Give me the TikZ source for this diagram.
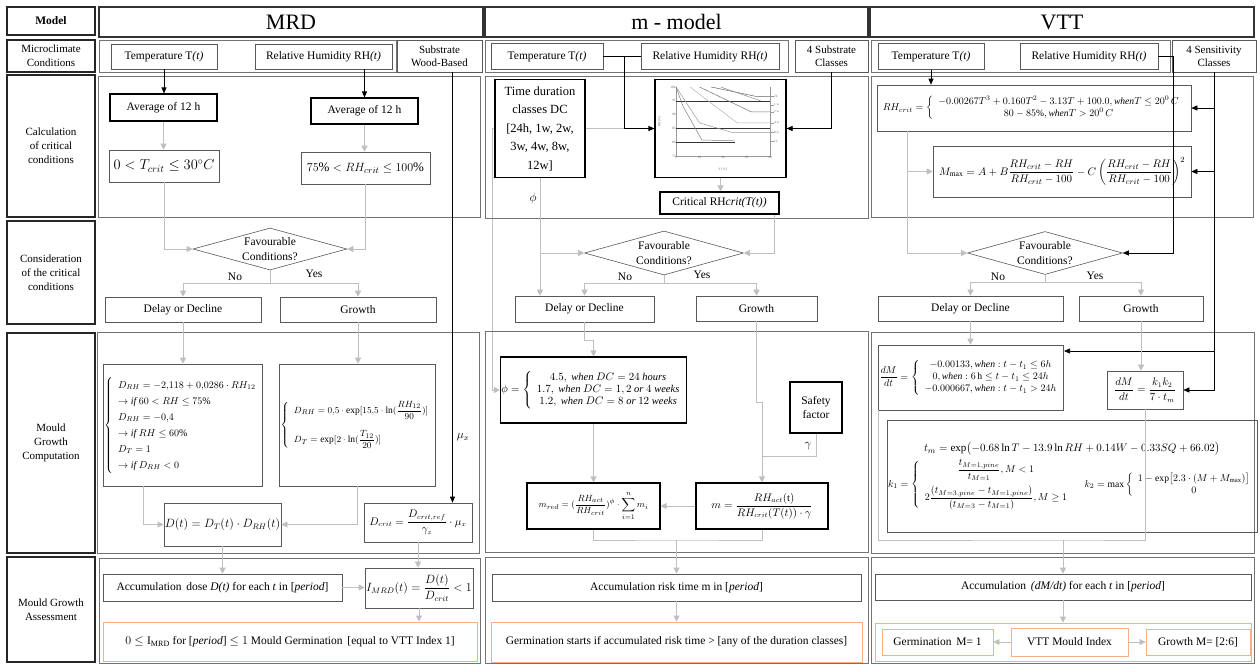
\documentclass[tikz,border=0pt]{standalone}
\usepackage{amsmath}
\usepackage{amssymb}
\usepackage{fontspec}
\setmainfont{Liberation Serif}
\usepackage{tikz}
\usetikzlibrary{positioning, shapes.geometric, arrows.meta, calc, backgrounds}
\definecolor{orangeline}{RGB}{244,176,132}
\tikzset{
    header/.style={draw=black!80, line width=1.2pt, minimum height=30, font=\fontsize{22}{24}\selectfont},
    row label/.style={draw=black!85, line width=1.3pt, minimum width=88, align=center, font=\fontsize{11}{14}\selectfont},
    cell frame/.style={draw=black!55, line width=0.7pt},
    box/.style={draw=black!65, line width=0.6pt, fill=white, align=center, inner sep=1pt, font=\fontsize{11.5}{13.5}\selectfont},
    thick box/.style={box, draw=black, line width=1.1pt},
    result box/.style={box, draw=orangeline, line width=0.9pt},
    decision/.style={diamond, draw=black!65, line width=0.6pt, fill=white, inner sep=0pt},
    label style/.style={font=\fontsize{11.5}{15}\selectfont, inner sep=1pt, align=center},
    gray line/.style={draw=black!25, line width=0.9pt},
    gray arrow/.style={gray line, -{Triangle[width=6pt,length=6pt]}},
    black line/.style={draw=black, line width=0.6pt},
    black arrow/.style={black line, -{Triangle[width=5pt,length=6pt]}},
    chart text/.style={font=\fontsize{3.3}{3.5}\selectfont, inner sep=0.4pt, text=black!60}
}

\begin{document}
\begin{tikzpicture}[x=1pt, y=-1pt]
    \useasboundingbox (0,0) rectangle (1260,664);

    % --- Frames of the table ---
    \draw[cell frame] (99,40) rectangle (396,72);
    \draw[cell frame] (485,40) rectangle (788,72);
    \draw[cell frame] (871,40) rectangle (1170,72);
    \draw[cell frame] (98,76) rectangle (480,217);
    \draw[cell frame] (485,76) rectangle (868,218);
    \draw[cell frame] (871,76) rectangle (1253,217);
    \draw[cell frame] (97,332) rectangle (479,553);
    \draw[cell frame] (485,331) rectangle (868,552);
    \draw[cell frame] (871,332) rectangle (1254,553);
    \draw[cell frame] (99,558) rectangle (480,663);
    \draw[cell frame] (485,557) rectangle (868,663);
    \draw[cell frame] (871,557) rectangle (1254,663);

    % --- Row labels ---
    \node (lblModel) [row label, minimum height=28, font=\bfseries\fontsize{11.5}{13}\selectfont] at (51,21) {Model};
    \node (lblMicro) [row label, minimum height=32] at (51,56) {Microclimate\\Conditions};
    \node (lblCalc) [row label, minimum height=142] at (51,146) {Calculation\\of critical\\conditions};
    \node (lblCons) [row label, minimum height=103] at (51,272.5) {Consideration\\of the critical\\conditions};
    \node (lblComp) [row label, minimum height=220] at (51,443) {Mould\\Growth\\Computation};
    \node (lblAssess) [row label, minimum height=105] at (51,609.5) {Mould Growth\\Assessment};

    % --- Headers ---
    \node (hMRD) [header, minimum width=384] at (291,22) {MRD};
    \node (hM) [header, minimum width=383] at (676.5,22) {m - model};
    \node (hVTT) [header, minimum width=384] at (1062,22) {VTT};

    % --- MRD ---
    \node (mrdT) [box, minimum width=106, minimum height=25] at (164,56.5) {Temperature T\textit{(t)}};
    \node (mrdRH) [box, minimum width=137, minimum height=25] at (323.5,56.5) {Relative Humidity RH\textit{(t)}};
    \node (mrdSub) [box, minimum width=85, minimum height=32, font=\fontsize{11}{13}\selectfont] at (439.5,56) {Substrate\\Wood-Based};
    \node (mrdAvgT) [thick box, minimum width=107, minimum height=27] at (163.5,107.5) {Average of 12 h};
    \node (mrdAvgRH) [thick box, minimum width=107, minimum height=26] at (364.5,111) {Average of 12 h};
    \node (mrdTcrit) [box, minimum width=110, minimum height=32, font=\fontsize{14}{16}\selectfont] at (164,166) {$0<T_{crit}\le 30^\circ C$};
    \node (mrdRHcrit) [box, minimum width=129, minimum height=32, font=\fontsize{13}{16}\selectfont] at (365.5,168) {$75\%<RH_{crit}\le 100\%$};
    \node (mrdDia) [decision, minimum width=154, minimum height=42] at (270,249) {};
    \node (mrdDiaText) [label style] at (mrdDia) {Favourable\\Conditions?};
    \node (mrdNo) [label style] at (235,277) {No};
    \node (mrdYes) [label style] at (314,274) {Yes};
    \node (mrdDelay) [box, minimum width=156, minimum height=25] at (183,309.5) {Delay or Decline};
    \node (mrdGrowth) [box, minimum width=156, minimum height=25] at (358,309.5) {Growth};
    \node (mrdDecl) [box, minimum width=156, minimum height=122, font=\fontsize{10}{11}\selectfont] at (183,425)
        {\renewcommand\arraystretch{1.45}$\left\{\begin{array}{l}D_{RH}=-2{,}118+0{,}0286\cdot RH_{12}\\ \rightarrow \mathit{if}\ 60<RH\le 75\%\\ D_{RH}=-0{,}4\\ \rightarrow \mathit{if}\ RH\le 60\%\\ D_T=1\\ \rightarrow \mathit{if}\ D_{RH}<0\end{array}\right.$};
    \node (mrdGrow) [box, minimum width=155, minimum height=122, font=\fontsize{9.5}{11}\selectfont] at (357.5,425)
        {$\left\{\begin{array}{l}D_{RH}=0{,}5\cdot\exp[15{,}5\cdot\ln(\dfrac{RH_{12}}{90})]\\[14pt] D_T=\exp[2\cdot\ln(\dfrac{T_{12}}{20})]\end{array}\right.$};
    \node (mrdD) [box, minimum width=109, minimum height=43] at (222.5,524.5) {$D(t)=D_T(t)\cdot D_{RH}(t)$};
    \node (mrdDcrit) [box, minimum width=108, minimum height=39, font=\fontsize{10.5}{12}\selectfont] at (418,522.5) {$D_{crit}=\dfrac{D_{crit,ref}}{\gamma_z}\cdot\mu_x$};
    \node (mrdMuLbl) [label style] at (463,437) {$\mu_x$};
    \node (mrdAcc) [box, minimum width=239, minimum height=27] at (222.5,587.5) {Accumulation\, dose \textit{D(t)} for each \textit{t} in [\textit{period}]};
    \node (mrdI) [box, minimum width=108, minimum height=40] at (419,588) {$I_{MRD}(t)=\dfrac{D(t)}{D_{crit}}<1$};
    \node (mrdOut) [result box, minimum width=374, minimum height=39] at (290,641.5) {$0\le{}$I\textsubscript{MRD} for [\textit{period}] $\le 1$ Mould Germination\, [equal to VTT Index 1]};

    % --- m-model ---
    \node (mT) [box, minimum width=112, minimum height=26] at (547,56.5) {Temperature T\textit{(t)}};
    \node (mRH) [box, minimum width=138, minimum height=26] at (710,56.5) {Relative Humidity RH\textit{(t)}};
    \node (mSub) [box, minimum width=73, minimum height=32, font=\fontsize{11}{13}\selectfont] at (831.5,56) {4 Substrate\\Classes};
    \node (mDC) [thick box, minimum width=90, minimum height=98, font=\fontsize{12.5}{18.5}\selectfont] at (540,128.5) {Time duration\\classes DC\\{[24h, 1w, 2w,}\\3w, 4w, 8w,\\12w]};
    \node (mChart) [thick box, minimum width=131, minimum height=98] at (720.5,128.5) {};
    \node (mCrit) [thick box, minimum width=119, minimum height=22] at (719.5,203) {Critical RH\textit{crit(T(t))}};
    \node (mPhiLbl) [label style] at (533,198) {$\phi$};
    \node (mDia) [decision, minimum width=159, minimum height=44] at (664,253) {};
    \node (mDiaText) [label style] at (mDia) {Favourable\\Conditions?};
    \node (mNo) [label style] at (625,277) {No};
    \node (mYes) [label style] at (702,275) {Yes};
    \node (mDelay) [box, minimum width=139, minimum height=26] at (584.5,309) {Delay or Decline};
    \node (mGrowth) [box, minimum width=121, minimum height=25] at (756.5,308.5) {Growth};
    \node (mPhi) [thick box, minimum width=179, minimum height=66, font=\fontsize{10.5}{12}\selectfont] at (593.5,390)
        {$\phi=\left\{\begin{array}{c}4.5,\ \mathit{when}\ DC=24\ \mathit{hours}\\ 1.7,\ \mathit{when}\ DC=1,2\ \mathit{or}\ 4\ \mathit{weeks}\\ 1.2,\ \mathit{when}\ DC=8\ \mathit{or}\ 12\ \mathit{weeks}\end{array}\right.$};
    \node (mSafe) [thick box, minimum width=52, minimum height=51] at (816,407.5) {Safety\\factor};
    \node (mGammaLbl) [label style] at (808,446) {$\gamma$};
    \node (mRed) [thick box, minimum width=133, minimum height=46, font=\fontsize{9.5}{11}\selectfont] at (593.5,506) {$m_{red}=(\dfrac{RH_{act}}{RH_{crit}})^{\phi}\cdot\displaystyle\sum_{i=1}^{n}m_i$};
    \node (mM) [thick box, minimum width=132, minimum height=46, font=\fontsize{10.5}{12}\selectfont] at (762,506) {$m=\dfrac{RH_{act}(\mathrm{t})}{RH_{crit}(T(t))\cdot\gamma}$};
    \node (mAcc) [box, minimum width=369, minimum height=27] at (676.5,587.5) {Accumulation risk time m in [\textit{period}]};
    \node (mOut) [result box, minimum width=371, minimum height=40] at (676.5,642) {Germination starts if accumulated risk time > [any of the duration classes]};

    % --- chart of the m-model ---
    \begin{scope}[shift={(676,156)}, x=2.35pt, y=2.76pt]
        \draw[black!40, line width=0.3pt] (0,25) -- (0,0) -- (40,0) -- (40,25);
        \foreach \v in {75,80,...,100}
            \node[chart text, left] at (0,\v-75) {\v};
        \foreach \t in {0,10,20,30,40}
            \node[chart text, below] at (\t,0) {\t};
        \node[chart text] at (20,-5) {T [°C]};
        \node[chart text, rotate=90] at (-7,12.5) {RH [\%]};
        \draw[black!80, line width=0.5pt] (0,20) -- (40,20);
        \draw[black!80, line width=0.5pt] (0,10) -- (40,10);
        \draw[black!80, line width=0.5pt] (0,5) -- (25,5);
        \draw[black!60, line width=0.5pt] (15,25) -- (34,21.6) -- (40,21.6);
        \draw[black!45, line width=0.5pt] (19,25) -- (36,20);
        \draw[black!55, line width=0.5pt] (10,25) -- (32,16) -- (40,16);
        \draw[black!30, line width=0.5pt] (6,25) -- (26,12) -- (40,12);
        \draw[black!40, line width=0.5pt] (0,25) -- (10,12) -- (24,8.5) -- (40,8.5);
        \draw[black!50, line width=0.5pt] (0,25) -- (3,18) -- (11,5.8) -- (25,5.5);
        \foreach \lv/\lt in {21.6/24, 18.6/1 w, 16/2 w, 12/4 w, 8.5/8 w, 5.3/12} {
            \draw[black!40, line width=0.3pt] (40,\lv) -- (41.5,\lv);
            \node[chart text, right] at (41.5,\lv) {\lt};
        }
    \end{scope}

    % --- VTT ---
    \node (vT) [box, minimum width=106, minimum height=26] at (931,56.5) {Temperature T\textit{(t)}};
    \node (vRH) [box, minimum width=138, minimum height=26] at (1089,56.5) {Relative Humidity RH\textit{(t)}};
    \node (vSens) [box, minimum width=84, minimum height=32, font=\fontsize{11}{13}\selectfont] at (1214,56) {4 Sensitivity\\Classes};
    \node (vRHcrit) [box, minimum width=314, minimum height=46, font=\fontsize{9.6}{12}\selectfont] at (1034,108)
        {$RH_{crit}=\left\{\begin{array}{c}-0.00267T^3+0.160T^2-3.13T+100.0,\mathit{when}T\le 20^{0}\,C\\ 80-85\%,\mathit{when}T>20^{0}\,C\end{array}\right.$};
    \node (vMmax) [box, minimum width=258, minimum height=51, font=\fontsize{11}{13}\selectfont] at (1062,171.5)
        {$M_{\max}=A+B\dfrac{RH_{crit}-RH}{RH_{crit}-100}-C\left(\dfrac{RH_{crit}-RH}{RH_{crit}-100}\right)^2$};
    \node (vDia) [decision, minimum width=155, minimum height=43] at (1045,253) {};
    \node (vDiaText) [label style] at (vDia) {Favourable\\Conditions?};
    \node (vNo) [label style] at (998,277) {No};
    \node (vYes) [label style] at (1095,276) {Yes};
    \node (vDelay) [box, minimum width=185, minimum height=25] at (970.5,308.5) {Delay or Decline};
    \node (vGrowth) [box, minimum width=124, minimum height=25] at (1141,308.5) {Growth};
    \node (vDecl) [box, minimum width=184, minimum height=65, font=\fontsize{9.7}{12}\selectfont] at (971,377.5)
        {$\dfrac{dM}{dt}=\left\{\begin{array}{c}-0.00133,\mathit{when}:t-t_1\le 6h\\ 0,\mathit{when}:6\,\mathrm{h}\le t-t_1\le 24h\\ -0.000667,\mathit{when}:t-t_1>24h\end{array}\right.$};
    \node (vGrow) [box, minimum width=76, minimum height=38, font=\fontsize{10.5}{12}\selectfont] at (1145,390) {$\dfrac{dM}{dt}=\dfrac{k_1k_2}{7\cdot t_m}$};
    \node (vTm) [box, fill=none, minimum width=354, minimum height=112, font=\fontsize{9.6}{12}\selectfont] at (1072,476)
        {{\fontsize{11}{13}\selectfont$t_m=\exp\bigl(-0.68\ln T-13.9\ln RH+0.14W-0.33SQ+66.02\bigr)$}\\[3pt]
         $k_1=\left\{\begin{array}{c}\dfrac{t_{M=1,pine}}{t_{M=1}},M<1\\[10pt] 2\dfrac{(t_{M=3,pine}-t_{M=1,pine})}{(t_{M=3}-t_{M=1})},M\ge 1\end{array}\right.\quad
          k_2=\max\left\{\begin{array}{c}1-\exp\bigl[2.3\cdot(M+M_{\max})\bigr]\\ 0\end{array}\right.$};
    \node (vAcc) [box, minimum width=376, minimum height=26] at (1063,587) {Accumulation\, \textit{(dM/dt)} for each \textit{t} in [\textit{period}]};
    \node (vOut) [result box, minimum width=376, minimum height=38] at (1063,642) {};
    \node (vGerm) [result box, minimum width=111, minimum height=26] at (937.5,642) {Germination\, M= 1};
    \node (vIdx) [result box, minimum width=117, minimum height=28] at (1069.5,642) {VTT Mould Index};
    \node (vGrowM) [result box, minimum width=104, minimum height=26] at (1198,642) {Growth M= [2:6]};

    % --- Connections MRD ---
    \draw[black arrow] (mrdT.south) -- (mrdT.south |- mrdAvgT.north);
    \draw[black arrow] (mrdAvgRH.north |- mrdRH.south) -- (mrdAvgRH.north);
    \draw[gray arrow] (mrdAvgT.south) -- (mrdAvgT.south |- mrdTcrit.north);
    \draw[gray arrow] (mrdAvgRH.south) -- (mrdAvgRH.south |- mrdRHcrit.north);
    \draw[gray arrow] (mrdTcrit.south) |- (mrdDia.west);
    \draw[gray arrow] (mrdRHcrit.south) |- (mrdDia.east);
    \coordinate (mrdSplit) at ($(mrdDia.south)+(0,13)$);
    \draw[gray line] (mrdDia.south) -- (mrdSplit);
    \draw[gray arrow] (mrdSplit) -| (mrdDelay.north);
    \draw[gray arrow] (mrdSplit) -| (mrdGrowth.north);
    \draw[gray arrow] (mrdDelay.south) -- (mrdDecl.north);
    \draw[gray arrow] (mrdGrowth.south) -- (mrdGrowth.south |- mrdGrow.north);
    \draw[gray arrow] ($(mrdDecl.south west)!0.25!(mrdDecl.south east)$) |- (mrdD.west);
    \draw[gray arrow] (mrdGrow.south) |- (mrdD.east);
    \coordinate (mrdMuTop) at ($(mrdSub.south)+(13,0)$);
    \draw[black arrow] (mrdMuTop) -- (mrdMuTop |- mrdDcrit.north);
    \draw[gray arrow] (mrdD.south) -- (mrdD.south |- mrdAcc.north);
    \draw[gray arrow] (mrdAcc.east) -- (mrdAcc.east -| mrdI.west);
    \draw[gray arrow] (mrdDcrit.south) -- (mrdDcrit.south |- mrdI.north);
    \draw[gray arrow] (mrdI.south) -- (mrdI.south |- mrdOut.north);

    % --- Connections m-model ---
    \begin{pgfonlayer}{background}
        \draw[gray arrow] (mChart.west) -- ($(mDC.west)+(-2,0)$) |- (mPhi.west);
    \end{pgfonlayer}
    \draw[black line] (mT.east) -- (mRH.west);
    \draw[black arrow] ($(mT.east)+(21,0)$) |- (mChart.west);
    \draw[black arrow] (mSub.south) |- (mChart.east);
    \draw[gray arrow] (mChart.south) -- (mChart.south |- mCrit.north);
    \draw[gray arrow] (mDC.south) -- (mDC.south |- mDelay.north);
    \draw[gray arrow] (mDC.south |- mDia.west) -- (mDia.west);
    \draw[gray arrow] ($(mCrit.south)+(55,0)$) |- (mDia.east);
    \coordinate (mSplit) at ($(mDia.south)+(0,8)$);
    \draw[gray line] (mDia.south) -- (mSplit);
    \draw[gray arrow] (mSplit) -| (mDelay.north);
    \draw[gray arrow] (mSplit) -| (mGrowth.north);
    \draw[gray arrow] (mDelay.south) -- ++(0,18) -| (mPhi.north);
    \draw[gray arrow] (mGrowth.south) -- ++(0,81) -| (mM.north);
    \draw[gray line] (mSafe.south) |- ($(mM.north)+(0,-26)$);
    \draw[gray arrow] (mPhi.south) -- (mRed.north);
    \draw[gray arrow] (mM.west) -- (mRed.east);
    \coordinate (mJoin) at (676.5,540);
    \draw[gray line] (mRed.south) |- (mJoin) -| (mM.south);
    \draw[gray arrow] (mJoin) -- (mAcc.north);
    \draw[gray arrow] (mAcc.south) -- (mOut.north);

    % --- Connections VTT ---
    \draw[black arrow] (vT.south) -- (vT.south |- vRHcrit.north);
    \draw[black arrow] (vRH.east) -- ++(15,0) |- (vDia.east);
    \draw[black arrow] (vSens.south) |- (vGrow.east);
    \draw[black arrow] (vSens.south |- vRHcrit.east) -- (vRHcrit.east);
    \draw[black arrow] (vSens.south |- vMmax.east) -- (vMmax.east);
    \coordinate (vDeclIn) at ($(vDecl.east)+(0,-26.5)$);
    \draw[black arrow] (vSens.south |- vDeclIn) -- (vDeclIn);
    \coordinate (vCritOut) at ($(vRHcrit.south)+(-127,0)$);
    \draw[gray arrow] (vCritOut) |- (vDia.west);
    \draw[gray arrow] (vCritOut |- vMmax.west) -- (vMmax.west);
    \coordinate (vSplit) at ($(vDia.south)+(0,8)$);
    \draw[gray line] (vDia.south) -- (vSplit);
    \draw[gray arrow] (vSplit) -| (vDelay.north);
    \draw[gray arrow] (vSplit) -| (vGrowth.north);
    \draw[gray arrow] (vDelay.south) -- (vDelay.south |- vDecl.north);
    \draw[gray arrow] (vGrowth.south) -- (vGrowth.south |- vGrow.north);
    \coordinate (vJoin) at (1063,540);
    \draw[gray line] (vDecl.south west) |- (vJoin) -| (vGrow.south);
    \draw[gray arrow] (vJoin) -- (vJoin |- vAcc.north);
    \draw[gray arrow] (vAcc.south) -- (vAcc.south |- vOut.north);
    \draw[gray arrow] (vIdx.west) -- (vGerm.east);
    \draw[gray arrow] (vIdx.east) -- (vGrowM.west);
\end{tikzpicture}
\end{document}
